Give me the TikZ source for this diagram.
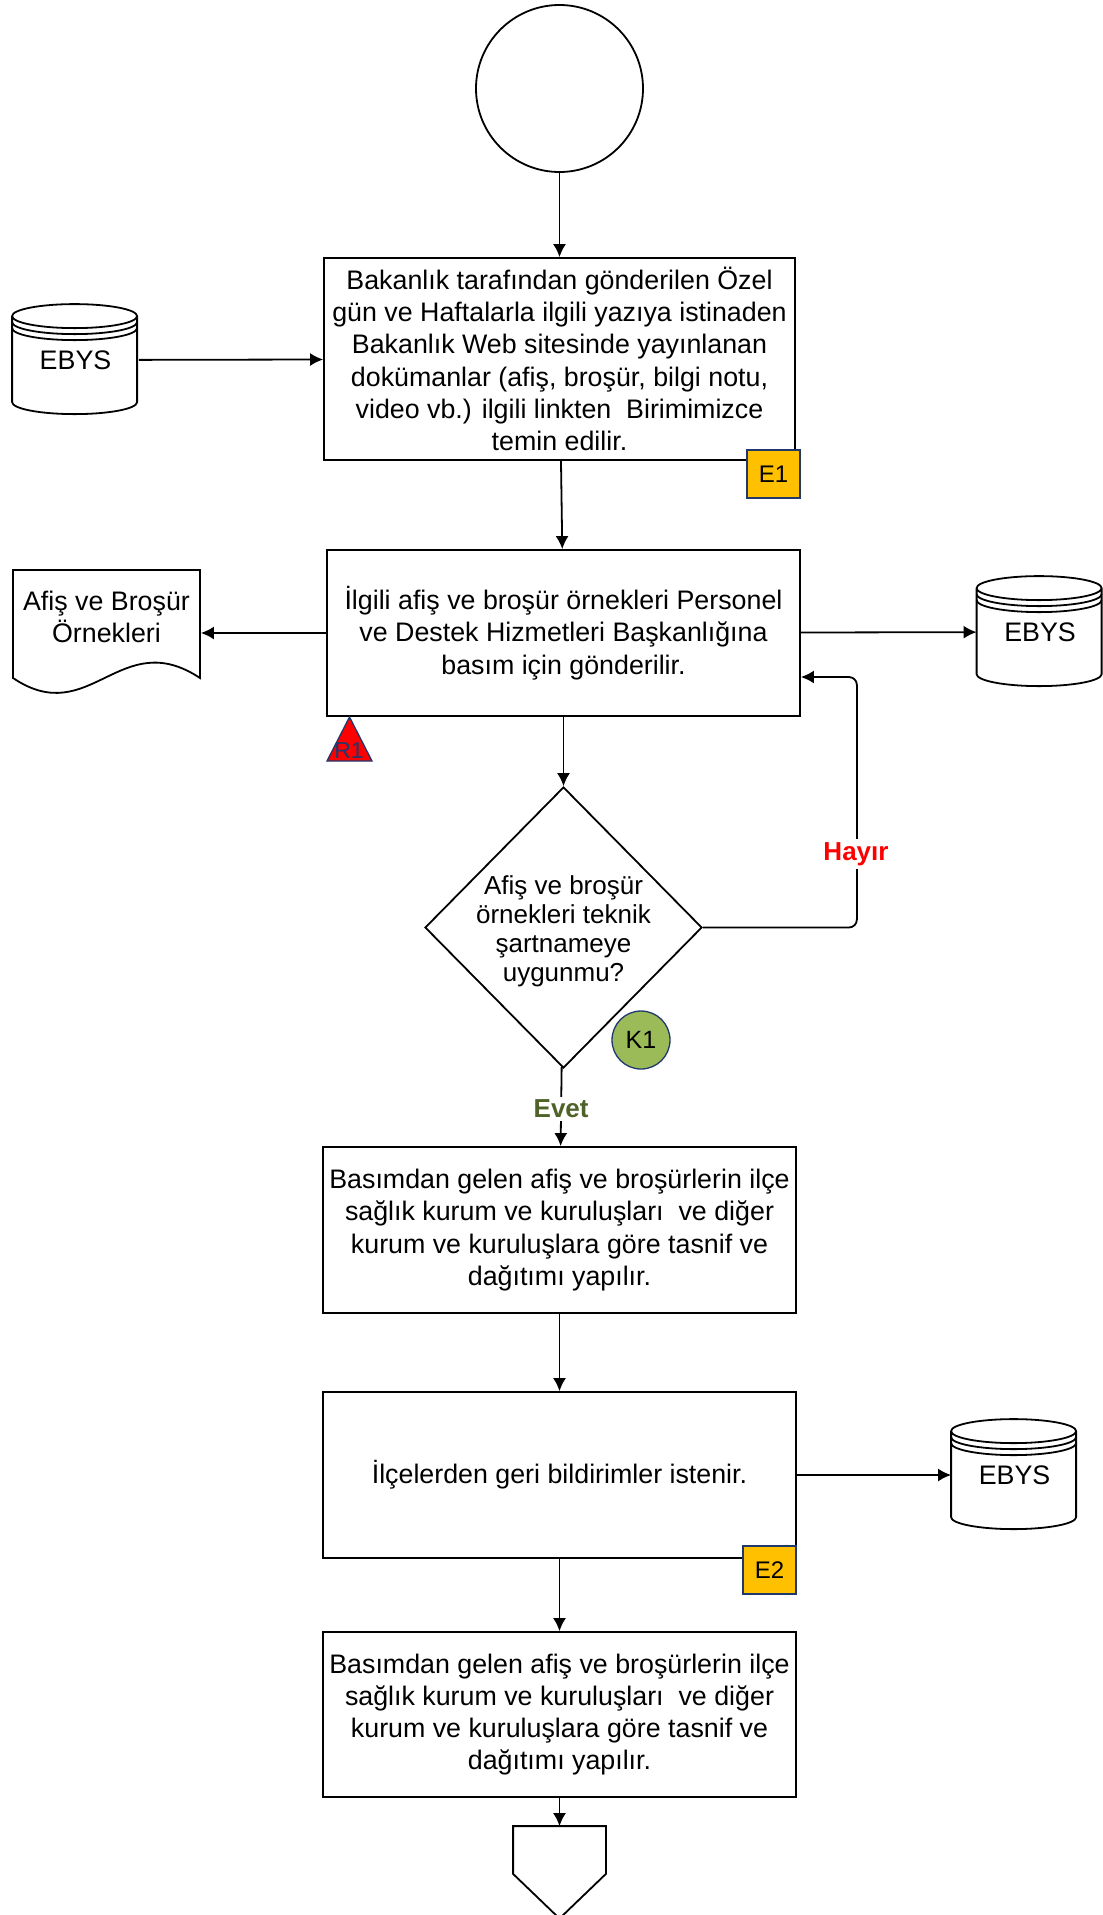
\documentclass[tikz,border=0pt]{standalone}
\usepackage{fontspec}
\setmainfont{Liberation Sans}
\usepackage{tikz}
\usetikzlibrary{shapes.geometric, arrows.meta}

\definecolor{sari}{RGB}{255,192,0}
\definecolor{lacivert}{RGB}{31,56,110}
\definecolor{yesil}{RGB}{155,187,89}
\definecolor{zeytin}{RGB}{79,98,40}

\begin{document}
\begin{tikzpicture}[x=1pt, y=-1pt, line width=1.8pt, font=\fontsize{26.8}{32.3}\selectfont]
        \useasboundingbox (0,0) rectangle (1103,1915);

        % Şekilleri çiz.
        \tikzstyle{kutu} = [draw, rectangle, minimum width=473pt, minimum height=166pt, align=center, inner sep=2pt]
        \tikzstyle{vt} = [minimum width=125pt, minimum height=110pt, inner sep=0pt]
        \tikzstyle{etiket} = [draw=lacivert, fill=sari, minimum width=53pt, minimum height=48pt, inner sep=0pt, line width=1.3pt, font=\fontsize{24}{24}\selectfont]

        \node[circle, draw, minimum size=167pt] (S) at (559.5,88.5) {};

        \node[kutu, minimum width=471pt, minimum height=202pt] (B1) at (559.5,359)
            {Bakanlık tarafından gönderilen Özel\\gün ve Haftalarla ilgili yazıya istinaden\\Bakanlık Web sitesinde yayınlanan\\dokümanlar (afiş, broşür, bilgi notu,\\video vb.) ilgili linkten~ Birimimizce\\temin edilir.};
        \node[kutu] (B2) at (563.5,633)
            {İlgili afiş ve broşür örnekleri Personel\\ve Destek Hizmetleri Başkanlığına\\basım için gönderilir.};
        \node[kutu] (B3) at (559.5,1230)
            {Basımdan gelen afiş ve broşürlerin ilçe\\sağlık kurum ve kuruluşları~ ve diğer\\kurum ve kuruluşlara göre tasnif ve\\dağıtımı yapılır.};
        \node[kutu] (B4) at (559.5,1475) {İlçelerden geri bildirimler istenir.};
        \node[kutu, minimum height=165pt] (B5) at (559.5,1714.5)
            {Basımdan gelen afiş ve broşürlerin ilçe\\sağlık kurum ve kuruluşları~ ve diğer\\kurum ve kuruluşlara göre tasnif ve\\dağıtımı yapılır.};

        \node[diamond, draw, minimum width=277pt, minimum height=281pt, inner sep=0pt] (K) at (563.5,927.5) {};
        \node[align=center, font=\fontsize{26}{29}\selectfont] (Kt) at (563.5,931)
            {Afiş ve broşür\\örnekleri teknik\\şartnameye\\uygunmu?};

        % Veritabanları.
        \node[vt] (V1) at (75.5,360) {EBYS};
        \node[vt] (V2) at (1040,632) {EBYS};
        \node[vt] (V3) at (1014.5,1475) {EBYS};
        \foreach \v in {V1,V2,V3} {
            \draw (\v.north west) ++(0,12) -- ++(0,86)
                arc[start angle=180, end angle=360, x radius=62.5pt, y radius=12pt] -- ++(0,-86)
                arc[start angle=0, end angle=360, x radius=62.5pt, y radius=12pt];
            \draw (\v.north west) ++(0,18) arc[start angle=180, end angle=360, x radius=62.5pt, y radius=12pt];
            \draw (\v.north west) ++(0,24) arc[start angle=180, end angle=360, x radius=62.5pt, y radius=12pt];
        }

        % Doküman ve sayfa bağlantısı.
        \node[minimum width=187pt, minimum height=100pt, inner sep=0pt, align=center] (D) at (106.5,617)
            {Afiş ve Broşür\\Örnekleri};
        \draw (13,678) -- (13,570) -- (200,570) -- (200,678) .. controls (120,625) and (90,730) .. cycle;

        \node[minimum width=91pt, minimum height=46pt, inner sep=0pt] (O) at (559.5,1850) {};
        \draw (O.south west) -- (O.north west) -- (O.north east) -- (O.south east) -- (559.5,1918.5) -- cycle;

        % Risk, kontrol ve evrak işaretleri.
        \draw[draw=lacivert, fill=red, line width=1.3pt] (349.5,717) -- (372,761) -- (327,761) -- cycle;
        \node[text=lacivert, font=\fontsize{23}{23}\selectfont] (R1) at (349,751) {R1};
        \node[circle, draw=lacivert, fill=yesil, minimum size=58pt, inner sep=0pt, line width=1.3pt, font=\fontsize{25}{25}\selectfont] (K1) at (641,1040) {K1};
        \node[etiket] (E1) at (773.5,474) {E1};
        \node[etiket] (E2) at (769.5,1570) {E2};

        % Bağlantıları çiz.
        \tikzstyle{ok} = [->, >={Latex[length=13pt, width=13pt]}]
        \path[ok]
            (S) edge (B1)
            (B1) edge (B2)
            (V1) edge (B1)
            (B2.west) edge (B2.west -| D.east)
            (B2) edge (V2)
            (B2) edge (K)
            (K) edge node[fill=white, text=zeytin, font=\bfseries\fontsize{26}{26}\selectfont, inner sep=3pt, yshift=-2pt]{Evet} (B3)
            (B3) edge (B4)
            (B4) edge (V3)
            (B4) edge (B5)
            (B5) edge (O);
        \draw[ok, rounded corners=8pt] (K.east) -| ([xshift=56pt, yshift=-44pt]B2.east) -- ([yshift=-44pt]B2.east);
        \node[fill=white, text=red, font=\bfseries\fontsize{26}{26}\selectfont, inner sep=3pt] (H) at (856,854) {Hayır};
    \end{tikzpicture}
\end{document}
